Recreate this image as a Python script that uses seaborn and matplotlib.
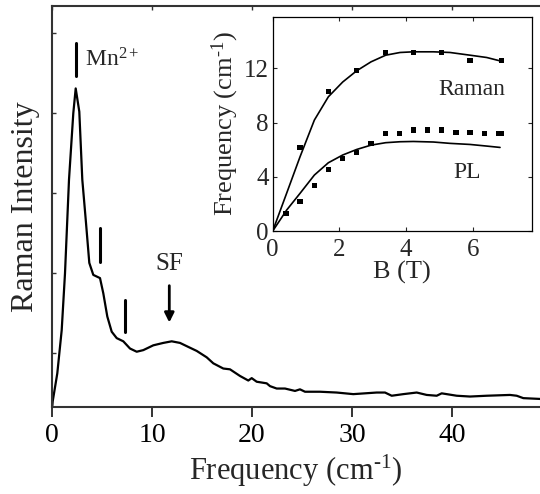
import numpy as np
import pandas as pd
import seaborn as sns
from matplotlib import pyplot as plt

# main spectrum
shift = [0.03, 0.07, 0.53, 0.97, 1.3, 1.7, 2.13, 2.37, 2.73, 3.03, 3.4, 3.73, 4.13, 4.8,
         5.13, 5.53, 5.97, 6.47, 7.13, 7.8, 8.47, 9.13, 10.13, 11.13, 11.97, 12.8, 13.63,
         14.47, 15.47, 16.13, 17.13, 17.8, 18.8, 19.63, 19.97, 20.47, 21.47, 21.8, 22.47,
         23.3, 24.3, 24.8, 25.3, 26.8, 28.47, 30.13, 32.47, 33.3, 33.97, 35.13, 36.47,
         37.47, 38.47, 38.97, 40.47, 41.8, 43.47, 45.8, 46.47, 47.13, 48.8]
intensity = [0.34, 0.40, 0.75, 1.29, 2.0, 3.17, 4.0, 4.31, 4.02, 3.17, 2.63, 2.13, 1.98, 1.94,
             1.75, 1.46, 1.27, 1.19, 1.15, 1.06, 1.02, 1.04, 1.10, 1.13, 1.15, 1.13, 1.08,
             1.03, 0.95, 0.875, 0.81, 0.80, 0.717, 0.66, 0.69, 0.645, 0.625, 0.59, 0.56,
             0.56, 0.53, 0.55, 0.52, 0.52, 0.51, 0.49, 0.51, 0.51, 0.47, 0.49, 0.51,
             0.48, 0.47, 0.50, 0.47, 0.46, 0.47, 0.48, 0.47, 0.44, 0.43]

# inset: measured points
raman_B = [0.82, 1.67, 2.52, 3.39, 4.22, 5.07, 5.92, 6.87]
raman_f = [6.15, 10.3, 11.85, 13.15, 13.15, 13.15, 12.6, 12.6]
pl_B = [0.4, 0.82, 1.25, 1.67, 2.1, 2.52, 2.95, 3.39, 3.8, 4.22, 4.65, 5.07, 5.5, 5.92,
        6.35, 6.77, 6.87]
pl_f = [1.3, 2.16, 3.34, 4.57, 5.36, 5.78, 6.47, 7.18, 7.18, 7.45, 7.45, 7.45, 7.28, 7.28,
        7.18, 7.18, 7.18]

# inset: fit curves
fit_B = [0, 0.42, 0.82, 1.25, 1.67, 2.1, 2.52, 2.95, 3.39, 3.82, 4.22, 4.82, 5.32, 5.92, 6.42, 6.82]
raman_fit = [0, 2.8, 5.48, 8.19, 9.91, 11.0, 11.83, 12.49, 12.98, 13.18, 13.23, 13.23,
             13.18, 12.98, 12.81, 12.56]
pl_fit = [0, 1.55, 2.78, 4.13, 5.04, 5.61, 6.02, 6.34, 6.52, 6.59, 6.61, 6.57, 6.47, 6.39,
          6.27, 6.17]

sns.set_theme(style="ticks")
plt.rcParams["font.family"] = ["Liberation Serif", "DejaVu Serif"]
plt.rcParams["mathtext.fontset"] = "custom"
plt.rcParams["mathtext.rm"] = "Liberation Serif"
plt.rcParams["mathtext.it"] = "Liberation Serif:italic"

fig = plt.figure(figsize=(5.4, 4.94), dpi=100)
ax = fig.add_axes([52 / 540, 87.3 / 494, 488 / 540, 400.7 / 494])

spec = pd.DataFrame({"x": shift, "y": intensity})
sns.lineplot(data=spec, x="x", y="y", ax=ax, color="black", lw=1.6,
             sort=False, estimator=None)

ax.set_xlim(0, 48.8)
ax.set_ylim(0.333, 5.34)
ax.set_xticks([0, 10, 20, 30, 40])
ax.set_yticks([1, 2, 3, 4, 5])
ax.set_yticklabels([])
ax.tick_params(axis="x", direction="out", length=7, width=1.4, labelsize=20, pad=5,
               colors="#333333", labelcolor="black")
ax.tick_params(axis="y", direction="in", length=3, width=1, colors="#333333")
for side in ["left", "bottom", "top"]:
    ax.spines[side].set_linewidth(1.5)
    ax.spines[side].set_color("#333333")
ax.spines["right"].set_visible(False)
ax.set_xlabel("Frequency (cm$^{\\text{-}1}$)", fontsize=22, labelpad=3)
ax.set_ylabel("Raman Intensity", fontsize=23, labelpad=5)

# short inward ticks on the top edge
top = ax.secondary_xaxis("top")
top.set_xticks([0, 10, 20, 30, 40])
top.tick_params(direction="in", length=3, width=1, colors="#333333", labeltop=False)
top.spines["top"].set_visible(False)

# marker bars and arrow
ax.plot([2.4, 2.4], [4.47, 4.88], color="black", lw=2.2)
ax.plot([4.8, 4.8], [2.14, 2.56], color="black", lw=2.2)
ax.plot([7.3, 7.3], [1.27, 1.67], color="black", lw=2.2)
ax.text(3.3, 4.58, "Mn$^{2+}$", fontsize=17, ha="left", va="baseline")
ax.annotate("", xy=(11.73, 1.35), xytext=(11.73, 1.88),
            arrowprops=dict(arrowstyle="-|>", color="black", lw=2, mutation_scale=14))
ax.text(11.7, 2.11, "SF", fontsize=18, ha="center", va="center")

# inset
ins = fig.add_axes([272.7 / 540, (494 - 231) / 494, 259 / 540, 214 / 494])
fits = pd.DataFrame({"B": fit_B * 2, "f": raman_fit + pl_fit,
                     "set": ["Raman"] * len(fit_B) + ["PL"] * len(fit_B)})
sns.lineplot(data=fits, x="B", y="f", units="set", estimator=None, sort=False,
             color="black", lw=1.2, ax=ins)
pts = pd.DataFrame({"B": raman_B + pl_B, "f": raman_f + pl_f})
sns.scatterplot(data=pts, x="B", y="f", marker="s", s=14, color="black",
                edgecolor="none", ax=ins)
ins.set_xlim(0, 7.77)
ins.set_ylim(0, 15.8)
ins.set_xticks([0, 2, 4, 6])
ins.set_yticks([0, 4, 8, 12])
ins.tick_params(direction="in", length=3, width=0.8, labelsize=18, pad=3,
                top=True, right=True)
ins.tick_params(axis="x", pad=6)
for s in ins.spines.values():
    s.set_linewidth(0.9)
    s.set_color("black")
ins.set_xlabel("B (T)", fontsize=19, labelpad=0)
ins.set_ylabel("Frequency (cm$^{\\text{-}1}$)", fontsize=19, labelpad=2)
ins.text(5.97, 10.45, "Raman", fontsize=17, ha="center", va="center")
ins.text(5.82, 4.3, "PL", fontsize=17, ha="center", va="center")

fig.savefig("out.png", dpi=100)
